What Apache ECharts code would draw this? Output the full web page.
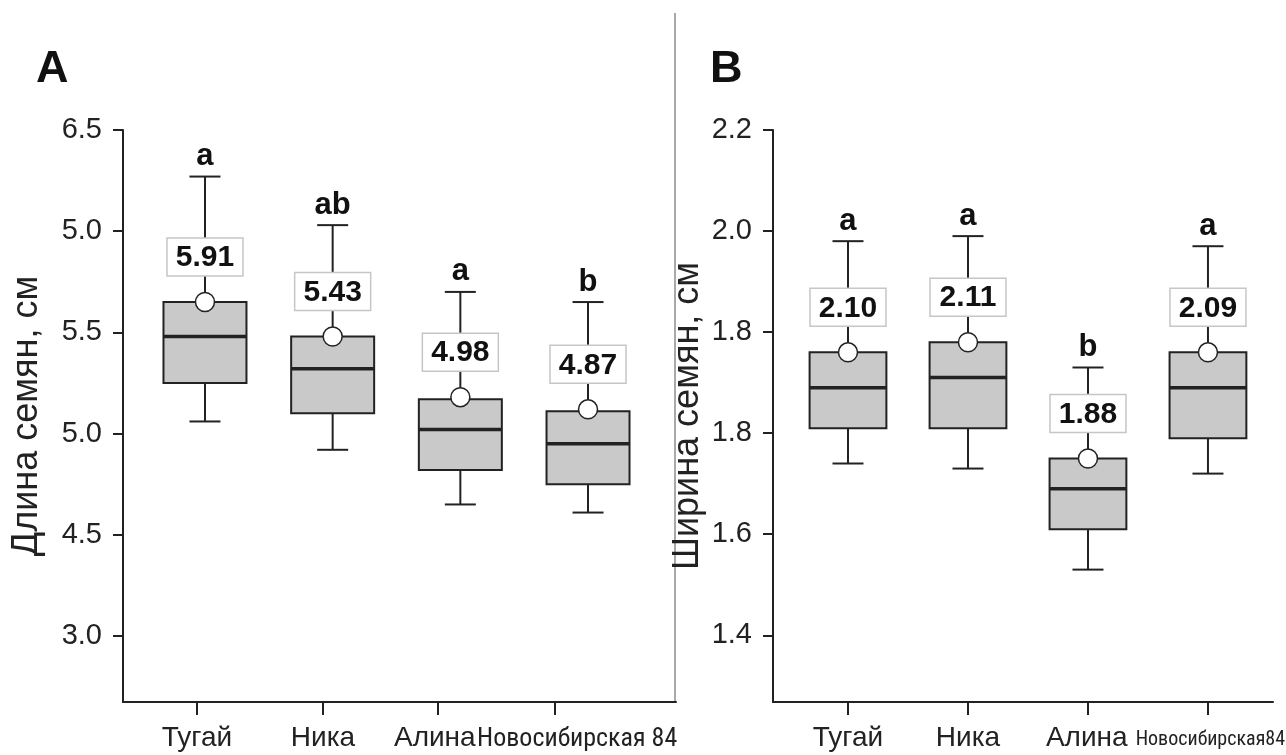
<!DOCTYPE html>
<html><head><meta charset="utf-8">
<script src="https://cdn.jsdelivr.net/npm/echarts@6/dist/echarts.min.js"></script>
<style>html,body{margin:0;padding:0;background:#fff}#c{width:1286px;height:755px}</style>
</head><body><div id="c"></div>
<script>
// ---------- data ----------
const categoriesA = ['Тугай', 'Ника', 'Алина', 'Новосибирская 84'];
const categoriesB = ['Тугай', 'Ника', 'Алина', 'Новосибирская84'];

// Panel A – seed length
const yTickValuesA = [6.5, 6.0, 5.5, 5.0, 4.5, 4.0];
const yTickLabelsA = ['6.5', '5.0', '5.5', '5.0', '4.5', '3.0'];
const whiskerLowA  = [5.06, 4.92, 4.65, 4.61];
const q1A          = [5.25, 5.10, 4.82, 4.75];
const medianA      = [5.48, 5.32, 5.02, 4.95];
const q3A          = [5.65, 5.48, 5.17, 5.11];
const whiskerHighA = [6.27, 6.03, 5.70, 5.65];
const meanA        = [5.65, 5.48, 5.18, 5.12];
const meanLabelA   = [5.91, 5.43, 4.98, 4.87];
const lettersA     = ['a', 'ab', 'a', 'b'];

// Panel B – seed width
const yTickValuesB = [2.2, 2.0, 1.8, 1.6, 1.4, 1.2];
const yTickLabelsB = ['2.2', '2.0', '1.8', '1.8', '1.6', '1.4'];
const whiskerLowB  = [1.54, 1.53, 1.33, 1.52];
const q1B          = [1.61, 1.61, 1.41, 1.59];
const medianB      = [1.69, 1.71, 1.49, 1.69];
const q3B          = [1.76, 1.78, 1.55, 1.76];
const whiskerHighB = [1.98, 1.99, 1.73, 1.97];
const meanB        = [1.76, 1.78, 1.55, 1.76];
const meanLabelB   = [2.10, 2.11, 1.88, 2.09];
const lettersB     = ['a', 'a', 'b', 'a'];

// ---------- build ----------
const FONT = '"Liberation Sans", Arial, Helvetica, sans-serif';
const NARROW = '"Liberation Sans Narrow", "Arial Narrow", "Roboto Condensed", "DejaVu Sans Condensed", sans-serif';
const INK = '#222';

function rows(lo, q1, med, q3, hi, mean) {
  return lo.map((v, i) => [i, lo[i], q1[i], med[i], q3[i], hi[i], mean[i]]);
}

function makeRender(boxW, meanLabels, letters) {
  return function (params, api) {
    const i = api.value(0);
    const pLo = api.coord([i, api.value(1)]);
    const pQ1 = api.coord([i, api.value(2)]);
    const pMed = api.coord([i, api.value(3)]);
    const pQ3 = api.coord([i, api.value(4)]);
    const pHi = api.coord([i, api.value(5)]);
    const pMean = api.coord([i, api.value(6)]);
    const cx = pQ1[0];
    const w = api.size([boxW, 0])[0];
    const cap = 31;
    const k = params.dataIndex;
    const ly = pMean[1] - 45;
    const ln = (x1, y1, x2, y2, lw) => ({ type: 'line', shape: { x1, y1, x2, y2 }, style: { stroke: INK, lineWidth: lw || 2 } });
    return {
      type: 'group',
      children: [
        ln(cx, pHi[1], cx, pLo[1]),
        ln(cx - cap / 2, pHi[1], cx + cap / 2, pHi[1]),
        ln(cx - cap / 2, pLo[1], cx + cap / 2, pLo[1]),
        { type: 'rect', shape: { x: cx - w / 2, y: pQ3[1], width: w, height: pQ1[1] - pQ3[1] },
          style: { fill: '#c9c9c9', stroke: INK, lineWidth: 2 } },
        ln(cx - w / 2, pMed[1], cx + w / 2, pMed[1], 3.5),
        { type: 'rect', shape: { x: cx - 38, y: ly - 19, width: 76, height: 38 },
          style: { fill: '#fff', stroke: '#c6c6c6', lineWidth: 1.5 } },
        { type: 'text', style: { text: meanLabels[k].toFixed(2), x: cx, y: ly + 1, align: 'center', verticalAlign: 'middle',
          fontSize: 30, fontWeight: 'bold', fontFamily: FONT, fill: '#111' } },
        { type: 'circle', shape: { cx: cx, cy: pMean[1], r: 9.5 }, style: { fill: '#fff', stroke: INK, lineWidth: 1.5 } },
        { type: 'text', style: { text: letters[k], x: cx, y: pHi[1] - 20, align: 'center', verticalAlign: 'middle',
          fontSize: 31, fontWeight: 'bold', fontFamily: FONT, fill: '#111' } }
      ]
    };
  };
}

function labelLookup(positions, names) {
  return function (v) {
    let best = 0, d = Infinity;
    positions.forEach((p, j) => { const dd = Math.abs(p - v); if (dd < d) { d = dd; best = j; } });
    const t = names[best];
    return /Новосибирская/.test(t) ? '{n|' + t + '}' : t;
  };
}

const yLabelFmt = (vals, labels) => function (v) {
  let best = 0, d = Infinity;
  vals.forEach((p, j) => { const dd = Math.abs(p - v); if (dd < d) { d = dd; best = j; } });
  return labels[best];
};

// layout (axis positions, in category-index units)
const tickPosA = [-0.063, 0.924, 1.825, 2.741];
const labelPosA = [-0.063, 0.924, 1.80, 2.915];
const tickPosB = [0, 1, 2, 3];
const labelPosB = [0, 1, 1.99, 3.02];

const commonY = (min, max, vals, labels, name, gap, grid) => ({
  type: 'value', gridIndex: grid, min: min, max: max,
  name: name, nameLocation: 'middle', nameGap: gap,
  nameTextStyle: { fontSize: 36, color: INK, fontFamily: FONT },
  axisLine: { show: true, onZero: false, lineStyle: { color: INK, width: 2 } },
  axisTick: { show: true, customValues: vals, length: 10, lineStyle: { color: INK, width: 2 } },
  axisLabel: { customValues: vals, formatter: yLabelFmt(vals, labels), margin: 21, fontSize: 29, color: INK, fontFamily: FONT,
    hideOverlap: false, showMinLabel: true, showMaxLabel: true },
  splitLine: { show: false }
});

const commonX = (min, max, ticks, lpos, names, grid, narrowSize, narrowPad) => ({
  type: 'value', gridIndex: grid, min: min, max: max,
  axisLine: { show: true, onZero: false, lineStyle: { color: INK, width: 2 } },
  axisTick: { show: true, customValues: ticks, length: 13, lineStyle: { color: INK, width: 2 } },
  axisLabel: { customValues: lpos, formatter: labelLookup(lpos, names), margin: 22, fontSize: 28, color: INK, fontFamily: FONT,
    hideOverlap: false, showMinLabel: true, showMaxLabel: true,
    rich: { n: { fontFamily: NARROW, fontSize: narrowSize, color: INK, padding: [narrowPad, 0, 0, 0] } } },
  splitLine: { show: false }
});

const option = {
  animation: false,
  backgroundColor: '#fff',
  title: [
    { text: 'A', left: 36, top: 47, padding: 0, textStyle: { fontSize: 45, fontWeight: 'bold', color: '#111', fontFamily: FONT } },
    { text: 'B', left: 710, top: 47, padding: 0, textStyle: { fontSize: 45, fontWeight: 'bold', color: '#111', fontFamily: FONT } }
  ],
  graphic: [
    { type: 'line', shape: { x1: 675, y1: 13, x2: 675, y2: 702 }, style: { stroke: '#8c8c8c', lineWidth: 1.5 }, z: 0 }
  ],
  grid: [
    { left: 123, right: 610, top: 130, bottom: 53, outerBoundsMode: 'none', containLabel: false },
    { left: 773, right: 13, top: 130, bottom: 53, outerBoundsMode: 'none', containLabel: false }
  ],
  xAxis: [
    commonX(-0.642, 3.689, tickPosA, labelPosA, categoriesA, 0, 26, 2),
    commonX(-0.625, 3.542, tickPosB, labelPosB, categoriesB, 1, 20, 6)
  ],
  yAxis: [
    commonY(3.674, 6.5, yTickValuesA, yTickLabelsA, 'Длина семян, см', 78, 0),
    commonY(1.068, 2.2, yTickValuesB, yTickLabelsB, 'Ширина семян, см', 67, 1)
  ],
  series: [
    { type: 'custom', xAxisIndex: 0, yAxisIndex: 0, clip: false,
      renderItem: makeRender(0.65, meanLabelA, lettersA),
      data: rows(whiskerLowA, q1A, medianA, q3A, whiskerHighA, meanA) },
    { type: 'custom', xAxisIndex: 1, yAxisIndex: 1, clip: false,
      renderItem: makeRender(0.64, meanLabelB, lettersB),
      data: rows(whiskerLowB, q1B, medianB, q3B, whiskerHighB, meanB) }
  ]
};

const chart = echarts.init(document.getElementById('c'), null, { renderer: 'canvas' });
chart.setOption(option);
</script>
</body></html>
